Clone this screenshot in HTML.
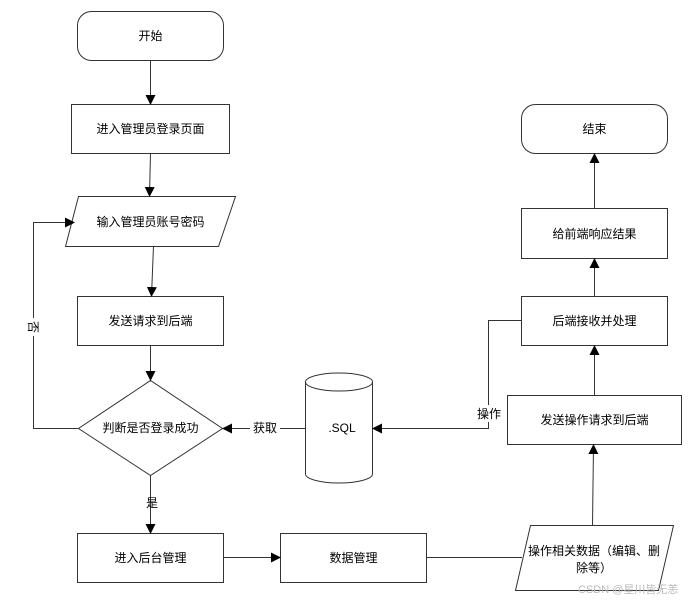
<!DOCTYPE html>
<html><head><meta charset="utf-8"><style>
html,body{margin:0;padding:0;background:#fff;}
svg text{font-family:"Liberation Sans","Noto Sans CJK SC",sans-serif;font-size:12px;fill:#000;}
</style></head><body>
<svg width="693" height="602" viewBox="0 0 693 602" xmlns="http://www.w3.org/2000/svg">
<defs><marker id="a" markerWidth="10" markerHeight="10" refX="9" refY="5" orient="auto" markerUnits="userSpaceOnUse"><path d="M0,0 L10,5 L0,10 Z" fill="#000"/></marker></defs>
<g fill="#fff" stroke="#333" stroke-width="1">
<rect x="77.5" y="11.5" width="146" height="49" rx="14"/>
<rect x="71.5" y="104.5" width="158" height="49"/>
<polygon points="78.5,196.5 235.5,196.5 218.5,246.5 65.5,246.5"/>
<rect x="77.5" y="296.5" width="146" height="49"/>
<polygon points="150.5,380.5 222.5,428.5 150.5,475.5 78.5,428.5"/>
<rect x="77.5" y="533.5" width="146" height="49"/>
<rect x="280.5" y="533.5" width="146" height="49"/>
<polygon points="530.5,525.5 673.5,525.5 658.5,590.5 515.5,590.5"/>
<rect x="507.5" y="395.5" width="174" height="49"/>
<rect x="521.5" y="296.5" width="146" height="49"/>
<rect x="521.5" y="208.5" width="146" height="50"/>
<rect x="521.5" y="104.5" width="146" height="49" rx="14"/>
<path d="M305.5,382 L305.5,474 A33.5,9 0 0 0 372.5,474 L372.5,382"/>
<ellipse cx="339" cy="382" rx="33.5" ry="9"/>
</g>
<g stroke="#333" stroke-width="1" fill="none" marker-end="url(#a)">
<line x1="150.5" y1="60" x2="150.5" y2="104"/>
<line x1="150.5" y1="153" x2="149.5" y2="196"/>
<line x1="153.5" y1="246" x2="151.5" y2="296"/>
<line x1="150.5" y1="345" x2="150.5" y2="380"/>
<polyline points="78,428.5 33.5,428.5 33.5,222.5 74,222.5"/>
<line x1="150.5" y1="475" x2="150.5" y2="533"/>
<line x1="223" y1="557.5" x2="280" y2="557.5"/>
<line x1="305" y1="428.5" x2="223" y2="428.5"/>
<polyline points="521,320.5 488.5,320.5 488.5,428.5 373,428.5"/>
<line x1="592.5" y1="525" x2="593.5" y2="445"/>
<line x1="594.5" y1="395" x2="594.5" y2="346"/>
<line x1="594.5" y1="296" x2="594.5" y2="259"/>
<line x1="594.5" y1="208" x2="594.5" y2="154"/>
</g>
<line x1="426" y1="557.5" x2="522" y2="557.5" stroke="#333"/>
<rect x="250" y="420" width="30" height="16" fill="#fff"/>
<rect x="26" y="318" width="15" height="18" fill="#fff"/>
<rect x="474" y="405" width="30" height="17" fill="#fff"/>
<g text-anchor="middle">
<text x="150.5" y="40">开始</text>
<text x="150.5" y="133">进入管理员登录页面</text>
<text x="150.5" y="226">输入管理员账号密码</text>
<text x="150.5" y="325">发送请求到后端</text>
<text x="150.5" y="432">判断是否登录成功</text>
<text x="152" y="507">是</text>
<text x="150.5" y="562">进入后台管理</text>
<text x="353.5" y="562">数据管理</text>
<text x="265" y="432">获取</text>
<text x="342" y="432">.SQL</text>
<text x="489" y="418">操作</text>
<text x="594.5" y="424">发送操作请求到后端</text>
<text x="594.5" y="325">后端接收并处理</text>
<text x="594.5" y="238">给前端响应结果</text>
<text x="594.5" y="133">结束</text>
<text x="594" y="555">操作相关数据（编辑、删</text>
<text x="594" y="572">除等）</text>
<text transform="translate(33,327) rotate(90)" dy="4">否</text>
</g>
<text x="578" y="593" style="font-size:11px;fill:#bbb">CSDN @星川皆无恙</text>
</svg>
</body></html>
